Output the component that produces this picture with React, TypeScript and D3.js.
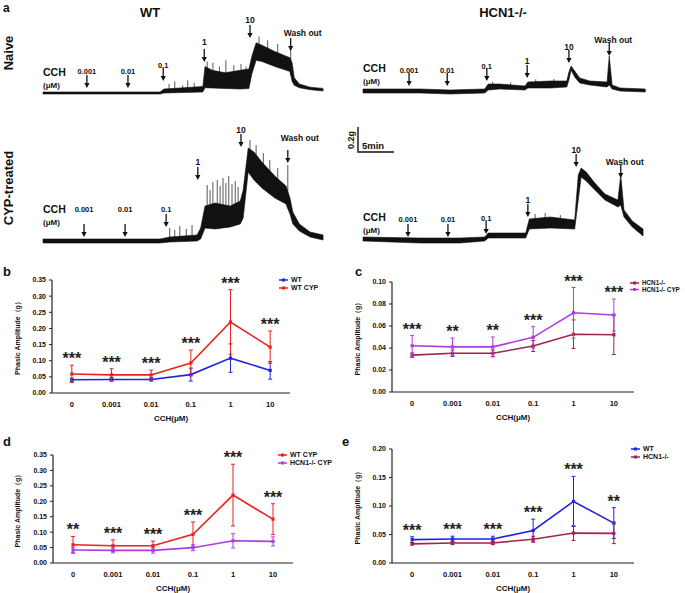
import * as d3 from "d3";

const FONT = "'Liberation Sans', Arial, sans-serif";

// ---- panels b-e : phasic amplitude (g) vs CCH (µM) ----
const CATEGORIES = ["0", "0.001", "0.01", "0.1", "1", "10"];

const WT_MEAN = [0.041, 0.042, 0.042, 0.057, 0.108, 0.07];
const WT_SD = [0.005, 0.005, 0.005, 0.02, 0.044, 0.027];
const WT_CYP_MEAN = [0.059, 0.056, 0.056, 0.093, 0.22, 0.142];
const WT_CYP_SD = [0.027, 0.019, 0.015, 0.04, 0.1, 0.05];
const HCN_MEAN = [0.0335, 0.0352, 0.0352, 0.0418, 0.0525, 0.052];
const HCN_SD = [0.002, 0.003, 0.003, 0.005, 0.013, 0.018];
const HCN_CYP_MEAN = [0.042, 0.041, 0.041, 0.0497, 0.072, 0.07];
const HCN_CYP_SD = [0.0093, 0.008, 0.009, 0.0097, 0.023, 0.0145];

const STARS_B = ["***", "***", "***", "***", "***", "***"];
const STARS_C = ["***", "**", "**", "***", "***", "***"];
const STARS_D = ["**", "***", "***", "***", "***", "***"];
const STARS_E = ["***", "***", "***", "***", "***", "**"];

// ---- panel a : raw traces, [minutes, low g, high g] envelopes ----
const WT_NAIVE_ENV = [
  [0, 0, 0.016], [16.25, 0, 0.016], [16.8, 0.008, 0.04], [22.2, 0.016, 0.06],
  [22.5, 0.05, 0.22], [23.5, 0.048, 0.19], [25.3, 0.044, 0.17], [27.4, 0.04, 0.19],
  [28.6, 0.044, 0.2], [29.0, 0.16, 0.3], [29.6, 0.27, 0.41], [30.4, 0.26, 0.39],
  [32.2, 0.22, 0.34], [34.3, 0.18, 0.29], [34.6, 0.1, 0.25], [34.9, 0.07, 0.13],
  [35.6, 0.05, 0.08], [37.1, 0.035, 0.055], [38.9, 0.025, 0.045],
];
const WT_NAIVE_SPIKES = [
  [17.5, 0.08], [18.3, 0.1], [19.4, 0.07], [20.1, 0.11], [21.0, 0.09],
  [22.8, 0.26], [23.6, 0.25], [24.5, 0.22], [25.4, 0.27], [26.5, 0.23],
  [27.5, 0.24], [28.2, 0.22], [30.0, 0.46], [31.2, 0.43], [32.6, 0.4], [34.4, 0.36],
];
const WT_NAIVE_ARROWS = [
  { label: "0.001", t: 6.1, tip: 0.048, text: 0.16 },
  { label: "0.01", t: 11.8, tip: 0.048, text: 0.16 },
  { label: "0.1", t: 16.7, tip: 0.104, text: 0.208 },
  { label: "1", t: 22.4, tip: 0.256, text: 0.392 },
  { label: "10", t: 28.75, tip: 0.448, text: 0.568 },
  { label: "Wash out", t: 34.4, tip: 0.344, text: 0.464 },
];

const WT_CYP_ENV = [
  [0, 0, 0.032], [16.25, 0, 0.032], [17.6, 0.008, 0.048], [21.4, 0.016, 0.064],
  [21.9, 0.032, 0.12], [22.5, 0.12, 0.296], [23.9, 0.112, 0.32], [26.0, 0.128, 0.296],
  [27.4, 0.152, 0.336], [27.8, 0.2, 0.424], [28.5, 0.568, 0.76], [29.3, 0.504, 0.728],
  [30.4, 0.44, 0.648], [32.2, 0.36, 0.536], [33.75, 0.312, 0.456], [34.3, 0.232, 0.36],
  [34.7, 0.152, 0.248], [35.6, 0.096, 0.152], [37.1, 0.048, 0.088], [38.9, 0.024, 0.064],
];
const WT_CYP_SPIKES = [
  [17.6, 0.12], [18.3, 0.104], [19.0, 0.136], [19.9, 0.112], [20.7, 0.144],
  [22.8, 0.464], [23.2, 0.424], [23.6, 0.488], [24.2, 0.504], [24.6, 0.456],
  [25.0, 0.52], [25.4, 0.48], [25.8, 0.536], [26.25, 0.472], [26.7, 0.496], [27.1, 0.448],
  [28.75, 0.824], [29.6, 0.784], [30.6, 0.72], [31.5, 0.664], [32.6, 0.6], [34.0, 0.624],
];
const WT_CYP_ARROWS = [
  { label: "0.001", t: 5.7, tip: 0.048, text: 0.248 },
  { label: "0.01", t: 11.4, tip: 0.048, text: 0.248 },
  { label: "0.1", t: 17.1, tip: 0.128, text: 0.248 },
  { label: "1", t: 21.5, tip: 0.504, text: 0.624 },
  { label: "10", t: 27.5, tip: 0.768, text: 0.88 },
  { label: "Wash out", t: 34.0, tip: 0.64, text: 0.816 },
];

const HCN_NAIVE_ENV = [
  [0, 0, 0.032], [7.9, 0, 0.032], [12.1, -0.008, 0.024], [16.9, 0, 0.032],
  [17.4, 0.024, 0.072], [19.0, 0.032, 0.072], [22.5, 0.024, 0.056], [22.9, 0.04, 0.088],
  [26.0, 0.04, 0.096], [28.3, 0.048, 0.096], [28.6, 0.104, 0.168], [28.9, 0.184, 0.216],
  [29.4, 0.128, 0.176], [30.1, 0.08, 0.12], [31.5, 0.064, 0.096], [33.9, 0.048, 0.088],
  [34.2, 0.064, 0.296], [34.6, 0.032, 0.064], [35.7, 0.016, 0.04], [39.2, 0.008, 0.032],
];
const HCN_NAIVE_SPIKES = [[18.0, 0.09], [20.5, 0.085], [24.0, 0.11], [26.5, 0.112]];
const HCN_NAIVE_ARROWS = [
  { label: "0.001", t: 6.4, tip: 0.056, text: 0.16 },
  { label: "0.01", t: 11.7, tip: 0.056, text: 0.16 },
  { label: "0.1", t: 17.2, tip: 0.096, text: 0.192 },
  { label: "1", t: 22.8, tip: 0.12, text: 0.232 },
  { label: "10", t: 28.6, tip: 0.24, text: 0.344 },
  { label: "Wash out", t: 34.2, tip: 0.296, text: 0.4 },
];

const HCN_CYP_ENV = [
  [0, 0, 0.032], [7.9, -0.016, 0.024], [13.5, -0.016, 0.024], [16.9, 0, 0.032],
  [17.4, 0.024, 0.064], [22.6, 0.024, 0.064], [23.1, 0.096, 0.176], [26.0, 0.104, 0.192],
  [29.4, 0.096, 0.168], [29.9, 0.328, 0.528], [30.3, 0.512, 0.584], [31.0, 0.48, 0.552],
  [32.2, 0.408, 0.464], [33.6, 0.328, 0.376], [35.4, 0.272, 0.328], [35.8, 0.288, 0.528],
  [36.25, 0.192, 0.248], [37.4, 0.112, 0.16], [38.9, 0.04, 0.096],
];
const HCN_CYP_SPIKES = [[23.9, 0.216], [25.3, 0.224], [27.4, 0.208]];
const HCN_CYP_ARROWS = [
  { label: "0.001", t: 6.25, tip: 0.032, text: 0.152 },
  { label: "0.01", t: 11.8, tip: 0.032, text: 0.152 },
  { label: "0.1", t: 17.1, tip: 0.056, text: 0.16 },
  { label: "1", t: 22.9, tip: 0.192, text: 0.304 },
  { label: "10", t: 29.6, tip: 0.592, text: 0.704 },
  { label: "Wash out", t: 35.8, tip: 0.504, text: 0.608 },
];

const BLUE = "#2323dd";
const RED = "#e8231e";
const MAROON = "#a3214e";
const PURPLE = "#b03be0";

type Series = { name: string; color: string; mean: number[]; sd: number[] };

const wt: Series = { name: "WT", color: BLUE, mean: WT_MEAN, sd: WT_SD };
const wtCyp: Series = { name: "WT CYP", color: RED, mean: WT_CYP_MEAN, sd: WT_CYP_SD };
const hcn: Series = { name: "HCN1-/-", color: MAROON, mean: HCN_MEAN, sd: HCN_SD };
const hcnCyp: Series = { name: "HCN1-/- CYP", color: PURPLE, mean: HCN_CYP_MEAN, sd: HCN_CYP_SD };

type PanelProps = {
  letter: string;
  lx: number;
  ly: number;
  x0: number;
  x1: number;
  yZero: number;
  yTop: number;
  yMax: number;
  step: number;
  series: Series[];
  stars: string[];
  legX: number;
  legY: number;
  legGap: number;
  legSize: number;
  yLabelX: number;
};

const Panel = (p: PanelProps) => {
  const x = d3.scalePoint<string>().domain(CATEGORIES).range([p.x0, p.x1]).padding(0.5);
  const y = d3.scaleLinear().domain([0, p.yMax]).range([p.yZero, p.yTop]);
  const ticks = d3.range(0, p.yMax + p.step / 2, p.step);
  const fmt = d3.format(".2f");
  const line = d3
    .line<number>()
    .x((_, i) => x(CATEGORIES[i])!)
    .y((d) => y(d));

  return (
    <g fontFamily={FONT} fontWeight="bold" fill="#111">
      <text x={p.lx} y={p.ly} fontSize={13}>{p.letter}</text>
      <line x1={p.x0} x2={p.x0} y1={p.yZero} y2={p.yTop} stroke="#222" strokeWidth={1.2} />
      <line x1={p.x0} x2={p.x1} y1={p.yZero} y2={p.yZero} stroke="#222" strokeWidth={1.2} />
      {ticks.map((t) => (
        <g key={t}>
          <line x1={p.x0 - 3} x2={p.x0} y1={y(t)} y2={y(t)} stroke="#222" />
          <text x={p.x0 - 6} y={y(t)} dy="0.35em" textAnchor="end" fontSize={7}>
            {fmt(t)}
          </text>
        </g>
      ))}
      {CATEGORIES.map((c) => (
        <text key={c} x={x(c)} y={p.yZero + 14} textAnchor="middle" fontSize={7.5}>
          {c}
        </text>
      ))}
      <text x={(p.x0 + p.x1) / 2} y={p.yZero + 28} textAnchor="middle" fontSize={8}>
        CCH(μM)
      </text>
      <text
        transform={`translate(${p.yLabelX},${(p.yZero + p.yTop) / 2}) rotate(-90)`}
        textAnchor="middle"
        fontSize={7}
      >
        Phasic Amplitude（g）
      </text>
      {p.series.map((s) => (
        <g key={s.name}>
          {s.mean.map((m, i) => {
            const cx = x(CATEGORIES[i])!;
            return (
              <g key={i} stroke={s.color} strokeWidth={1}>
                <line x1={cx} x2={cx} y1={y(m - s.sd[i])} y2={y(m + s.sd[i])} />
                <line x1={cx - 2} x2={cx + 2} y1={y(m + s.sd[i])} y2={y(m + s.sd[i])} />
                <line x1={cx - 2} x2={cx + 2} y1={y(m - s.sd[i])} y2={y(m - s.sd[i])} />
              </g>
            );
          })}
          <path d={line(s.mean) ?? ""} fill="none" stroke={s.color} strokeWidth={1.6} />
          {s.mean.map((m, i) => (
            <rect key={i} x={x(CATEGORIES[i])! - 1.6} y={y(m) - 1.6} width={3.2} height={3.2} fill={s.color} />
          ))}
        </g>
      ))}
      {p.stars.map((st, i) => {
        const top = d3.max(p.series, (s) => s.mean[i] + s.sd[i])!;
        return (
          <text key={i} x={x(CATEGORIES[i])} y={y(top) - 1} textAnchor="middle" fontSize={16} fill="#222">
            {st}
          </text>
        );
      })}
      {p.series.map((s, i) => {
        const ly = p.legY + i * p.legGap;
        return (
          <g key={s.name}>
            <line x1={p.legX} x2={p.legX + 9} y1={ly} y2={ly} stroke={s.color} strokeWidth={1.5} />
            <rect x={p.legX + 3} y={ly - 1.5} width={3} height={3} fill={s.color} />
            <text x={p.legX + 12} y={ly} dy="0.35em" fontSize={p.legSize}>{s.name}</text>
          </g>
        );
      })}
    </g>
  );
};

type Arrow = { label: string; t: number; tip: number; text: number };

type TraceProps = {
  x0: number;
  y0: number;
  env: number[][];
  spikes: number[][];
  arrows: Arrow[];
  washDx: number;
  cchY: number;
};

const PX_PER_5MIN = 36;
const PX_PER_02G = 25;

const Trace = ({ x0, y0, env, spikes, arrows, washDx, cchY }: TraceProps) => {
  const x = d3.scaleLinear().domain([0, 5]).range([x0, x0 + PX_PER_5MIN]);
  const y = d3.scaleLinear().domain([0, 0.2]).range([y0, y0 - PX_PER_02G]);
  const area = d3
    .area<number[]>()
    .x((d) => x(d[0]))
    .y0((d) => y(d[1]))
    .y1((d) => y(d[2]));
  // piecewise-linear lower edge of the envelope, so spikes start on the trace
  const loAt = d3.scaleLinear().domain(env.map((d) => d[0])).range(env.map((d) => d[1]));

  return (
    <g fontFamily={FONT} fontWeight="bold" fill="#111">
      {spikes.map(([t, g], i) => (
        <line key={i} x1={x(t)} x2={x(t)} y1={y(loAt(t))} y2={y(g)} stroke="#444" strokeWidth={0.9} />
      ))}
      <path d={area(env) ?? ""} fill="#111" stroke="#111" strokeWidth={0.6} strokeLinejoin="round" />
      <text x={x0} y={cchY} fontSize={10.5}>CCH</text>
      <text x={x0} y={cchY + 12} fontSize={8}>(μM)</text>
      {arrows.map((a) => {
        const ax = x(a.t);
        const ty = y(a.tip);
        const wash = a.label === "Wash out";
        const small = a.label.startsWith("0");
        return (
          <g key={a.label}>
            <line x1={ax} x2={ax} y1={ty - 13} y2={ty - 3} stroke="#111" strokeWidth={1.3} />
            <path d={`M${ax - 2.6},${ty - 5}L${ax + 2.6},${ty - 5}L${ax},${ty}Z`} fill="#111" />
            <text
              x={ax + (wash ? washDx : 0)}
              y={y(a.text)}
              textAnchor="middle"
              fontSize={small ? 7.5 : 8.5}
              fill="#111"
            >
              {a.label}
            </text>
          </g>
        );
      })}
    </g>
  );
};

export default function App() {
  return (
    <svg
      width={685}
      height={593}
      style={{ position: "absolute", left: 0, top: 0, background: "#fff" }}
    >
      <rect width={685} height={593} fill="#fff" />
      <g fontFamily={FONT} fontWeight="bold" fill="#111">
        <text x={3} y={12} fontSize={12}>a</text>
        <text x={150} y={17} textAnchor="middle" fontSize={13}>WT</text>
        <text x={503} y={17} textAnchor="middle" fontSize={13}>HCN1-/-</text>
        <text transform="translate(13,53) rotate(-90)" textAnchor="middle" fontSize={13}>Naive</text>
        <text transform="translate(13,188) rotate(-90)" textAnchor="middle" fontSize={13}>CYP-treated</text>
        {/* scale bar */}
        <path d="M358,127V152H394" fill="none" stroke="#111" strokeWidth={1.4} />
        <text transform="translate(354,140) rotate(-90)" textAnchor="middle" fontSize={9}>0.2g</text>
        <text x={362} y={149} fontSize={9.5}>5min</text>
      </g>

      <Trace x0={43} y0={94} env={WT_NAIVE_ENV} spikes={WT_NAIVE_SPIKES} arrows={WT_NAIVE_ARROWS} washDx={12} cchY={76} />
      <Trace x0={43} y0={243} env={WT_CYP_ENV} spikes={WT_CYP_SPIKES} arrows={WT_CYP_ARROWS} washDx={12} cchY={213} />
      <Trace x0={363} y0={93} env={HCN_NAIVE_ENV} spikes={HCN_NAIVE_SPIKES} arrows={HCN_NAIVE_ARROWS} washDx={4} cchY={72} />
      <Trace x0={363} y0={241} env={HCN_CYP_ENV} spikes={HCN_CYP_SPIKES} arrows={HCN_CYP_ARROWS} washDx={4} cchY={221} />

      <Panel
        letter="b" lx={3} ly={276}
        x0={52} x1={290} yZero={393} yTop={280} yMax={0.35} step={0.05}
        series={[wt, wtCyp]} stars={STARS_B}
        legX={279} legY={280} legGap={8} legSize={7} yLabelX={20}
      />
      <Panel
        letter="c" lx={355} ly={276}
        x0={392} x1={634} yZero={392} yTop={282} yMax={0.1} step={0.02}
        series={[hcn, hcnCyp]} stars={STARS_C}
        legX={630} legY={283} legGap={6.5} legSize={6.3} yLabelX={360}
      />
      <Panel
        letter="d" lx={3} ly={446}
        x0={53} x1={293} yZero={563} yTop={455} yMax={0.35} step={0.05}
        series={[wtCyp, hcnCyp]} stars={STARS_D}
        legX={278} legY={455} legGap={8} legSize={7} yLabelX={20}
      />
      <Panel
        letter="e" lx={342} ly={446}
        x0={392} x1={634} yZero={563} yTop={449} yMax={0.2} step={0.05}
        series={[wt, hcn]} stars={STARS_E}
        legX={631} legY={449} legGap={8} legSize={7} yLabelX={360}
      />
    </svg>
  );
}
